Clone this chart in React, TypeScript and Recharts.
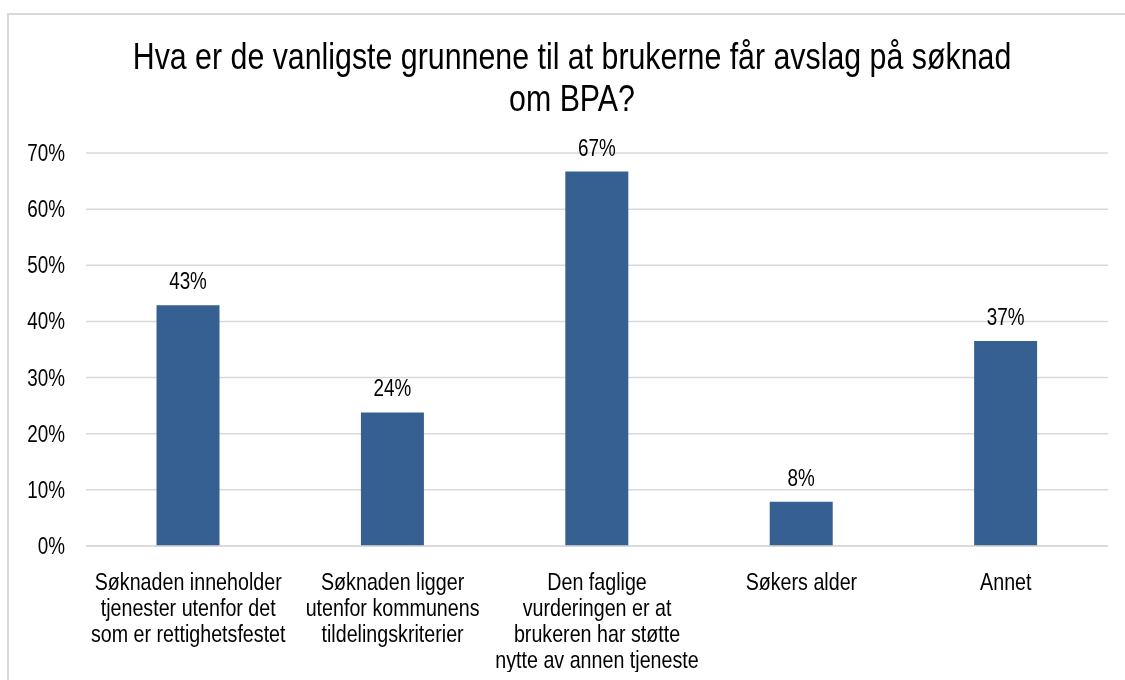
import React from "react";
import { BarChart, Bar, XAxis, YAxis, CartesianGrid, LabelList } from "recharts";

const categories = [
  "Søknaden inneholder|tjenester utenfor det|som er rettighetsfestet",
  "Søknaden ligger|utenfor kommunens|tildelingskriterier",
  "Den faglige|vurderingen er at|brukeren har støtte|nytte av annen tjeneste",
  "Søkers alder",
  "Annet",
];
const values = [42.9, 23.8, 66.7, 7.9, 36.5];
const yTicks = [0, 10, 20, 30, 40, 50, 60, 70];
const titleLines = [
  "Hva er de vanligste grunnene til at brukerne får avslag på søknad",
  "om BPA?",
];

const data = categories.map((c, i) => ({ name: c, value: values[i] }));
const FONT = "'Liberation Sans', Arial, sans-serif";
const SX = 0.82;

const NText = ({ x, y, anchor = "middle", size, children }: any) => (
  <g transform={`translate(${x},${y}) scale(${SX},1)`}>
    <text x={0} y={0} textAnchor={anchor} fontSize={size} fontFamily={FONT} fill="#000">
      {children}
    </text>
  </g>
);

const XTick = (props: any) => {
  const { x, y, payload } = props;
  const lines = String(payload.value).split("|");
  return (
    <g>
      {lines.map((l, i) => (
        <NText key={i} x={x} y={y + 36 + i * 26} size={24}>
          {l}
        </NText>
      ))}
    </g>
  );
};

const YTick = (props: any) => {
  const { x, y, payload } = props;
  return (
    <NText x={x} y={y + 8} anchor="end" size={23}>
      {`${payload.value}%`}
    </NText>
  );
};

const BarLabel = (props: any) => {
  const { x, y, width, value } = props;
  return (
    <NText x={Number(x) + Number(width) / 2} y={Number(y) - 16} size={23}>
      {`${Math.round(Number(value))}%`}
    </NText>
  );
};

export default function App() {
  return (
    <div style={{ position: "relative", width: 1109, height: 664 }}>
      <div
        style={{
          position: "fixed",
          left: 7,
          top: 13,
          width: 1130,
          height: 700,
          border: "2px solid #D9D9D9",
          boxSizing: "border-box",
        }}
      />
      <svg width={1109} height={140} style={{ position: "absolute", left: 0, top: 0 }}>
        {titleLines.map((t, i) => (
          <NText key={i} x={564} y={61 + i * 42} size={37}>
            {t}
          </NText>
        ))}
      </svg>
      <div style={{ position: "absolute", left: 0, top: 0 }}>
        <BarChart
          width={1109}
          height={664}
          data={data}
          margin={{ top: 145, right: 9, left: 0, bottom: 0 }}
          barCategoryGap="34.5%"
        >
          <CartesianGrid vertical={false} stroke="#D9D9D9" strokeWidth={1.5} />
          <XAxis
            dataKey="name"
            tick={<XTick />}
            tickLine={false}
            axisLine={{ stroke: "#D9D9D9", strokeWidth: 1.5 }}
            interval={0}
            height={126}
          />
          <YAxis
            domain={[0, 70]}
            ticks={yTicks}
            tick={<YTick />}
            tickLine={false}
            tickSize={0}
            tickMargin={21}
            axisLine={false}
            width={78}
          />
          <Bar dataKey="value" fill="#366092" isAnimationActive={false}>
            <LabelList dataKey="value" content={<BarLabel />} />
          </Bar>
        </BarChart>
      </div>
    </div>
  );
}
